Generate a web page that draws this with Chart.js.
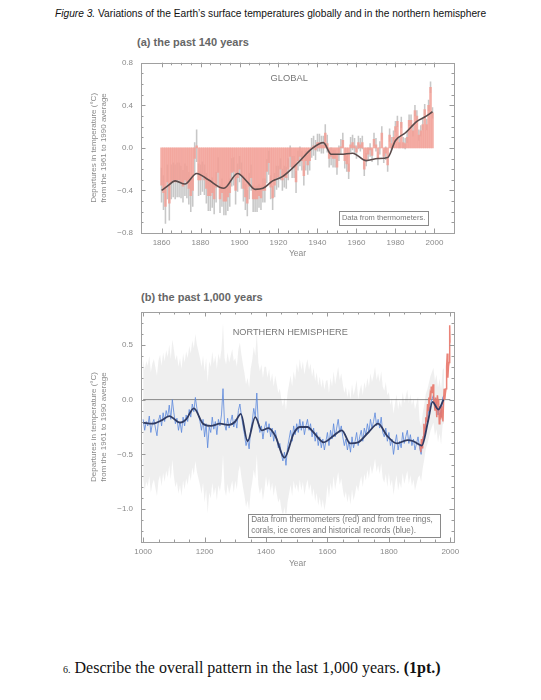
<!DOCTYPE html>
<html>
<head>
<meta charset="utf-8">
<script src="https://cdn.jsdelivr.net/npm/chart.js@4/dist/chart.umd.min.js"></script>
<style>
  html,body{margin:0;padding:0;background:#fff;}
  body{width:541px;height:700px;position:relative;overflow:hidden;font-family:"Liberation Sans",Arial,sans-serif;}
  .abs{position:absolute;white-space:nowrap;}
  #cap{left:55px;top:8px;font-size:10.2px;color:#111;}
  .sub{font-size:11px;font-weight:bold;color:#666;}
  #q{left:63px;top:659px;font-family:"Liberation Serif","Times New Roman",serif;font-size:16px;color:#111;}
  canvas{position:absolute;left:0;}
</style>
</head>
<body>
<div id="cap" class="abs"><i>Figure 3.</i> Variations of the Earth’s surface temperatures globally and in the northern hemisphere</div>
<div class="abs sub" style="left:137px;top:36px;">(a) the past 140 years</div>
<div class="abs sub" style="left:141px;top:291px;">(b) the past 1,000 years</div>
<div id="q" class="abs"><span style="font-size:10px">6.</span> Describe the overall pattern in the last 1,000 years. <b>(1pt.)</b></div>
<div style="position:absolute;left:0;top:50px;width:541px;height:210px;"><canvas id="ca"></canvas></div>
<div style="position:absolute;left:0;top:285px;width:541px;height:285px;"><canvas id="cb"></canvas></div>
<script>
// ---------------- DATA ----------------
// (a) global annual anomalies 1860-1999
const globalYears = Array.from({length:140},(_,i)=>1860+i);
const globalAnom = [
 -0.35,-0.42,-0.55,-0.32,-0.52,-0.32,-0.30,-0.32,-0.30,-0.30,
 -0.32,-0.36,-0.30,-0.32,-0.38,-0.45,-0.40,-0.10, 0.02,-0.30,
 -0.30,-0.27,-0.30,-0.38,-0.45,-0.45,-0.42,-0.48,-0.37,-0.23,
 -0.48,-0.42,-0.50,-0.50,-0.46,-0.42,-0.23,-0.22,-0.40,-0.28,
 -0.20,-0.26,-0.38,-0.46,-0.52,-0.36,-0.28,-0.48,-0.48,-0.48,
 -0.45,-0.47,-0.40,-0.40,-0.22,-0.14,-0.37,-0.47,-0.35,-0.28,
 -0.27,-0.20,-0.30,-0.27,-0.28,-0.20,-0.08,-0.18,-0.18,-0.32,
 -0.12,-0.08,-0.12,-0.26,-0.12,-0.16,-0.12, 0.00, 0.02,-0.02,
  0.05, 0.05, 0.03, 0.03, 0.14, 0.04,-0.10,-0.08,-0.10,-0.10,
 -0.18,-0.05, 0.01, 0.07,-0.12,-0.15,-0.22, 0.03, 0.05, 0.02,
 -0.04, 0.05, 0.03, 0.05,-0.20,-0.11,-0.06,-0.02,-0.07, 0.08,
  0.03,-0.10, 0.00, 0.14,-0.08,-0.05,-0.16, 0.12, 0.04, 0.10,
  0.20, 0.25, 0.05, 0.24, 0.05, 0.04, 0.10, 0.26, 0.26, 0.16,
  0.35, 0.30, 0.12, 0.16, 0.22, 0.36, 0.22, 0.40, 0.57, 0.33
];
// half-width of the uncertainty whiskers, one value per decade (1860s..1990s)
const globalErrDecade = [0.16,0.15,0.14,0.13,0.12,0.11,0.10,0.09,0.08,0.07,0.06,0.06,0.05,0.05];
// smoothed curve (knots)
const globalSmoothYears = [1860,1863,1867,1872,1878,1884,1892,1899,1904,1908,1912,1917,1922,1930,1937,1943,1947,1952,1958,1965,1971,1976,1980,1985,1991,1995,1999];
const globalSmoothVals  = [-0.40,-0.36,-0.31,-0.34,-0.24,-0.30,-0.38,-0.24,-0.32,-0.39,-0.38,-0.31,-0.27,-0.14,-0.01,0.05,-0.06,-0.06,-0.05,-0.12,-0.10,-0.09,0.07,0.14,0.25,0.29,0.34];

// (b) northern hemisphere reconstruction 1000-1980 (5-year steps)
const nhYears = Array.from({length:197},(_,i)=>1000+5*i);
const nhProxy = [
 -0.18,-0.28,-0.20,-0.24,-0.15,-0.30,-0.22,-0.18,-0.26,-0.33,-0.19,-0.14,-0.24,-0.12,-0.20,-0.10,-0.16,-0.05,-0.18, 0.00,
 -0.12,-0.22,-0.17,-0.28,-0.20,-0.30,-0.16,-0.24,-0.14,-0.20,-0.09,-0.16,-0.04,-0.11, 0.02,-0.08,-0.14,-0.20,-0.28,-0.18,
 -0.34,-0.22,-0.44,-0.25,-0.30,-0.16,-0.27,-0.20,-0.32,-0.18,-0.24,-0.14, 0.10,-0.22,-0.28,-0.17,-0.26,-0.20,-0.14,-0.25,
 -0.18,-0.26,-0.10,-0.04,-0.15,-0.24,-0.32,-0.42,-0.36,-0.45,-0.28,-0.20,-0.08,-0.16, 0.06,-0.22,-0.30,-0.24,-0.36,-0.26,
 -0.20,-0.30,-0.22,-0.34,-0.26,-0.38,-0.28,-0.36,-0.44,-0.40,-0.50,-0.56,-0.48,-0.60,-0.44,-0.36,-0.28,-0.38,-0.24,-0.32,
 -0.22,-0.30,-0.18,-0.28,-0.20,-0.32,-0.24,-0.18,-0.28,-0.22,-0.34,-0.26,-0.38,-0.30,-0.42,-0.34,-0.44,-0.36,-0.46,-0.38,
 -0.30,-0.42,-0.28,-0.36,-0.22,-0.34,-0.26,-0.18,-0.30,-0.24,-0.34,-0.42,-0.36,-0.46,-0.38,-0.48,-0.34,-0.44,-0.38,-0.30,
 -0.42,-0.34,-0.28,-0.38,-0.26,-0.32,-0.22,-0.30,-0.18,-0.26,-0.20,-0.12,-0.24,-0.18,-0.26,-0.16,-0.30,-0.34,-0.26,-0.38,
 -0.30,-0.42,-0.36,-0.50,-0.40,-0.32,-0.46,-0.38,-0.44,-0.30,-0.40,-0.34,-0.28,-0.40,-0.32,-0.42,-0.36,-0.46,-0.40,-0.34,
 -0.44,-0.50,-0.38,-0.30,-0.20,-0.16,-0.10,-0.04, 0.00, 0.04,-0.08,-0.02,-0.14,-0.06,-0.16, 0.02, 0.04
];
// half-width of the grey uncertainty band, one value per century (1000s..1900s)
const nhBandHalfCentury = [0.55,0.58,0.60,0.56,0.50,0.55,0.48,0.42,0.37,0.25];
// instrumental NH record
const nhThermoYears = [1902,1904,1906,1908,1910,1912,1914,1916,1918,1920,1922,1924,1926,1928,1930,1932,1934,1936,1938,1940,1942,1944,1946,1948,1950,1952,1954,1956,1958,1960,1962,1964,1966,1968,1970,1972,1974,1976,1978,1980,1982,1984,1986,1988,1990,1992,1994,1996,1998,1999];
const nhThermoVals  = [-0.42,-0.48,-0.36,-0.44,-0.38,-0.34,-0.22,-0.30,-0.26,-0.16,-0.20,-0.14,-0.04,-0.10,0.02,-0.02,0.04,0.00,0.12,0.06,0.10,0.14,0.00,-0.04,-0.10,0.02,-0.06,-0.16,0.04,-0.02,0.00,-0.22,-0.12,-0.18,-0.06,-0.14,-0.12,-0.20,-0.02,0.10,0.00,0.06,0.10,0.30,0.42,0.20,0.30,0.34,0.68,0.52];
// smoothed NH curve (knots)
const nhSmoothYears = [1000,1030,1060,1085,1120,1140,1165,1195,1220,1250,1280,1300,1318,1340,1365,1386,1408,1430,1460,1490,1510,1535,1555,1588,1620,1647,1674,1700,1733,1765,1794,1826,1860,1880,1907,1928,1942,1961,1978];
const nhSmoothVals  = [-0.21,-0.22,-0.19,-0.15,-0.21,-0.18,-0.08,-0.22,-0.24,-0.22,-0.23,-0.20,-0.13,-0.38,-0.16,-0.28,-0.26,-0.33,-0.53,-0.31,-0.25,-0.25,-0.30,-0.39,-0.33,-0.28,-0.40,-0.39,-0.30,-0.22,-0.33,-0.40,-0.37,-0.38,-0.42,-0.19,-0.02,-0.09,0.00];

const ticksA_x = [1860,1880,1900,1920,1940,1960,1980,2000];
const ticksA_y = [-0.8,-0.4,0.0,0.4,0.8];
const ticksB_x = [1000,1200,1400,1600,1800,2000];
const ticksB_y = [-1.0,-0.5,0.0,0.5];

// ---------------- HELPERS ----------------
const GREY = '#8a8a8a';
const FONT = {family:'"Liberation Sans", Arial, sans-serif', size:8};
const fmt = v => (v<0?'\u2212':'') + Math.abs(v).toFixed(1);
const fixTicks = vals => (s => { s.ticks = vals.map(v=>({value:v})); });

const frameTicks = {
  id:'frameTicks',
  afterDatasetsDraw(chart, args, o){
    const {ctx, chartArea:a, scales:{x,y}} = chart;
    ctx.save();
    ctx.strokeStyle = '#9a9a9a'; ctx.lineWidth = 1;
    ctx.beginPath();
    const mk = (px, len, vertical) => {
      if (vertical){
        ctx.moveTo(px, a.bottom); ctx.lineTo(px, a.bottom-len);
        ctx.moveTo(px, a.top); ctx.lineTo(px, a.top+len);
      } else {
        ctx.moveTo(a.left, px); ctx.lineTo(a.left+len, px);
        ctx.moveTo(a.right, px); ctx.lineTo(a.right-len, px);
      }
    };
    for (let v=o.xMinorStart; v<=x.max; v+=o.xMinor) mk(Math.round(x.getPixelForValue(v))+0.5, 2.5, true);
    for (const t of x.ticks) mk(Math.round(x.getPixelForValue(t.value))+0.5, 4.5, true);
    for (let v=o.yMinorStart; v<=y.max+1e-9; v+=o.yMinor) mk(Math.round(y.getPixelForValue(v))+0.5, 2.5, false);
    for (const t of y.ticks) mk(Math.round(y.getPixelForValue(t.value))+0.5, 4.5, false);
    ctx.stroke();
    ctx.strokeStyle = '#a0a0a0';
    ctx.strokeRect(Math.round(a.left)+0.5, Math.round(a.top)+0.5, Math.round(a.right-a.left), Math.round(a.bottom-a.top));
    ctx.fillStyle = '#777';
    ctx.font = o.label.size + 'px "Liberation Sans", Arial, sans-serif';
    ctx.textAlign = 'center'; ctx.textBaseline = 'middle';
    ctx.fillText(o.label.text, x.getPixelForValue(o.label.x), y.getPixelForValue(o.label.y));
    const b = o.box;
    const bx0 = x.getPixelForValue(b.x0), bx1 = x.getPixelForValue(b.x1);
    const by0 = y.getPixelForValue(b.y0), by1 = y.getPixelForValue(b.y1);
    ctx.fillStyle = '#fff';
    ctx.fillRect(bx0, by0, bx1-bx0, by1-by0);
    ctx.strokeStyle = '#8a8a8a';
    ctx.strokeRect(Math.round(bx0)+0.5, Math.round(by0)+0.5, Math.round(bx1-bx0), Math.round(by1-by0));
    ctx.fillStyle = '#7a7a7a';
    ctx.font = b.size + 'px "Liberation Sans", Arial, sans-serif';
    ctx.textAlign = 'left';
    const lh = (by1-by0)/b.lines.length;
    b.lines.forEach((t,i)=>ctx.fillText(t, bx0+3, by0 + lh*(i+0.5)));
    ctx.restore();
  }
};

function axisCommon(){
  return { grid:{display:false, drawTicks:false}, border:{display:false} };
}
const yTitle = ['Departures in temperature (\u00b0C)','from the 1961 to 1990 average'];

// ---------------- CHART (a) ----------------
{
  const bars = globalYears.map((yr,i)=>({x:yr, y:globalAnom[i]}));
  const errs = globalYears.map((yr,i)=>{const e=globalErrDecade[Math.floor((yr-1860)/10)]; return {x:yr, y:[globalAnom[i]-e, globalAnom[i]+e]};});
  const smooth = globalSmoothYears.map((yr,i)=>({x:yr, y:globalSmoothVals[i]}));
  new Chart(document.getElementById('ca'), {
    data:{datasets:[
      {type:'line', data:smooth, borderColor:'#5b4b4b', borderWidth:1.6, pointRadius:0, cubicInterpolationMode:'monotone', order:0},
      {type:'bar', data:bars, backgroundColor:'rgba(242,160,150,0.85)', barThickness:1.9, grouped:false, order:1},
      {type:'bar', data:errs, backgroundColor:'rgba(175,175,175,0.7)', barThickness:0.9, grouped:false, order:2}
    ]},
    options:{
      responsive:true, maintainAspectRatio:false, animation:false, events:[],
      layout:{padding:{left:80, right:87, top:9, bottom:0}},
      plugins:{legend:{display:false}, tooltip:{enabled:false},
        frameTicks:{xMinor:5, xMinorStart:1860, yMinor:0.1, yMinorStart:-0.8,
          label:{text:'GLOBAL', x:1925.5, y:0.65, size:9.3},
          box:{x0:1951, x1:1996.5, y0:-0.59, y1:-0.72, size:7.5, lines:['Data from thermometers.']}}},
      scales:{
        x:{type:'linear', min:1859.5, max:2000, ...axisCommon(), afterBuildTicks:fixTicks(ticksA_x),
           ticks:{color:GREY, font:FONT, padding:5, callback:v=>String(v)},
           title:{display:true, text:'Year', color:GREY, font:{...FONT,size:8.5}, padding:{top:0,bottom:1}},
           afterFit:s=>{s.height=27;}},
        y:{type:'linear', min:-0.8, max:0.8, ...axisCommon(), afterBuildTicks:fixTicks(ticksA_y),
           ticks:{color:GREY, font:FONT, padding:8, callback:v=>fmt(v)},
           title:{display:true, text:yTitle, color:GREY, font:{...FONT,size:8}, padding:{top:9,bottom:0}},
           afterFit:s=>{s.width=61;}}
      }
    },
    plugins:[frameTicks]
  });
}

// ---------------- CHART (b) ----------------
{
  const proxy = nhYears.map((yr,i)=>({x:yr, y:nhProxy[i]}));
  const hw = yr => nhBandHalfCentury[Math.min(9, Math.floor((yr-1000)/100))];
  const upper = nhYears.map((yr,i)=>({x:yr, y:nhProxy[i]+hw(yr)}));
  const lower = nhYears.map((yr,i)=>({x:yr, y:nhProxy[i]-hw(yr)}));
  const thermo = nhThermoYears.map((yr,i)=>({x:yr, y:nhThermoVals[i]}));
  const smooth = nhSmoothYears.map((yr,i)=>({x:yr, y:nhSmoothVals[i]}));
  const zero = [{x:1000,y:0},{x:2000,y:0}];
  new Chart(document.getElementById('cb'), {
    type:'line',
    data:{datasets:[
      {data:smooth, borderColor:'#2f3b63', borderWidth:1.8, pointRadius:0, cubicInterpolationMode:'monotone', order:0},
      {data:thermo, borderColor:'rgba(232,118,105,0.9)', borderWidth:1.5, pointRadius:0, order:1},
      {data:proxy, borderColor:'rgba(90,135,220,0.8)', borderWidth:1, pointRadius:0, order:2},
      {data:zero, borderColor:'#6d6d6d', borderWidth:0.8, pointRadius:0, order:3},
      {data:upper, borderWidth:0, pointRadius:0, fill:false, order:5},
      {data:lower, borderWidth:0, pointRadius:0, fill:'-1', backgroundColor:'rgba(228,228,228,0.6)', order:4}
    ]},
    options:{
      responsive:true, maintainAspectRatio:false, animation:false, events:[],
      layout:{padding:{left:80, right:87, top:27, bottom:0}},
      plugins:{legend:{display:false}, tooltip:{enabled:false}, filler:{propagate:false},
        frameTicks:{xMinor:50, xMinorStart:1000, yMinor:0.1, yMinorStart:-1.3,
          label:{text:'NORTHERN HEMISPHERE', x:1479, y:0.61, size:9.2},
          box:{x0:1342, x1:1967, y0:-1.04, y1:-1.25, size:8.2, lines:['Data from thermometers (red) and from tree rings,','corals, ice cores and historical records (blue).']}}},
      scales:{
        x:{type:'linear', min:993, max:2012, ...axisCommon(), afterBuildTicks:fixTicks(ticksB_x),
           ticks:{color:GREY, font:FONT, padding:5, callback:v=>String(v)},
           title:{display:true, text:'Year', color:GREY, font:{...FONT,size:8.5}, padding:{top:0,bottom:1}},
           afterFit:s=>{s.height=28;}},
        y:{type:'linear', min:-1.3, max:0.8, ...axisCommon(), afterBuildTicks:fixTicks(ticksB_y),
           ticks:{color:GREY, font:FONT, padding:8, callback:v=>fmt(v)},
           title:{display:true, text:yTitle, color:GREY, font:{...FONT,size:8}, padding:{top:9,bottom:0}},
           afterFit:s=>{s.width=61;}}
      }
    },
    plugins:[frameTicks]
  });
}
</script>
</body>
</html>
